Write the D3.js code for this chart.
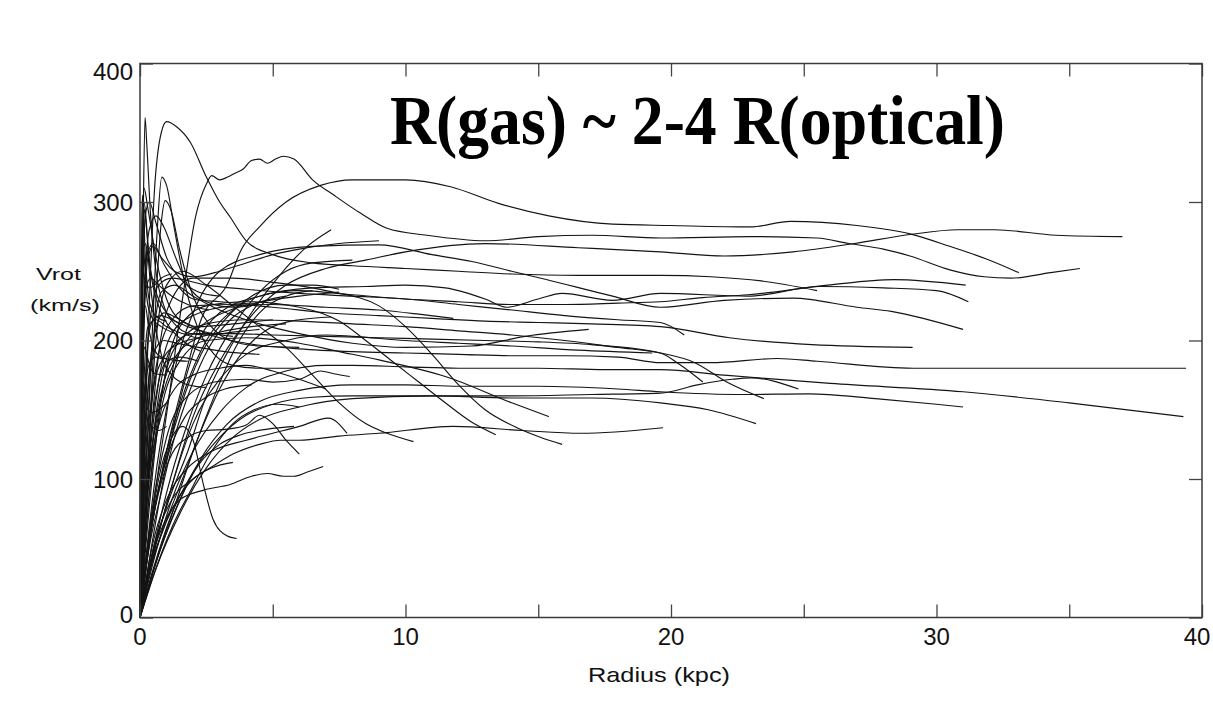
<!DOCTYPE html>
<html>
<head>
<meta charset="utf-8">
<script src="https://cdn.jsdelivr.net/npm/d3@7"></script>
<style>
html,body{margin:0;padding:0;background:#fff;}
svg{display:block;}
</style>
</head>
<body>
<svg id="chart" width="1213" height="710"></svg>
<script>
// ---- Data: rotation curves [radius (kpc), Vrot (km/s)] ----
const g01 = [[0,0],[0.4,60],[1,120],[1.7,175],[2.3,215],[3.3,241],[3.8,265],[4.5,282],[5.5,300],[6.8,312],[8,316],[10,316],[11.7,311],[13.5,299],[15.4,290],[17.8,284],[20,283],[23,282],[24.5,286],[27,283],[29,277],[30.5,268],[32,258],[33.1,249]];
const g02 = [[0,0],[0.12,90],[0.3,200],[0.55,310],[0.8,350],[1.0,358],[1.4,354],[1.9,343],[2.5,318],[3.0,300],[3.4,289],[4.0,272],[5,262],[6.5,256],[8,254],[10,252],[12,250],[14,248],[16.5,247],[19.6,247],[21.5,246],[23.4,243],[25.5,236]];
const g03 = [[0,0],[0.5,80],[1.1,160],[1.6,230],[2.1,290],[2.5,313],[2.7,319],[3.0,316],[3.3,318],[3.6,321],[3.9,324],[4.2,330],[4.5,331],[4.8,328],[5.1,331],[5.4,333],[5.8,331],[6.5,316],[7.3,305],[8.3,292],[9.3,281],[10.8,276],[13,272],[15,275],[17,276],[19.6,274],[23,275],[25.5,274],[26.7,270],[28,266],[29,261],[30.5,251],[31.8,246],[32.8,245],[34.3,249],[35.4,252]];
const g04 = [[0,0],[0.5,45],[1.2,95],[2,145],[3,185],[4.2,218],[5.5,240],[7,252],[8.5,258],[10,264],[13,270],[16.5,267],[19.6,264],[22,261],[24.6,264],[26.9,270],[29,276.5],[30.8,280],[32.2,280],[34.5,276],[37,275]];
const g05 = [[0,0],[0.4,60],[1,120],[1.7,165],[2.5,200],[3.5,222],[4.5,232],[6,236],[8,233],[10,230],[12,228],[14,226],[16,226],[18,227],[19.6,228],[21.2,231],[22.9,233],[25.9,240],[28.4,244],[31.1,240]];
const g06 = [[0,0],[0.5,90],[1.2,170],[2,220],[3,250],[4.5,262],[6.5,268],[9,269],[11,262],[12.5,257],[14,250],[15.3,244],[17.8,232],[19.6,224],[22,229],[24.6,230.6],[27,224],[28.3,221],[29.5,216],[31,208]];
const g07 = [[0,0],[0.25,100],[0.6,180],[1.2,215],[2,225],[3.5,226],[5,224],[7,220],[9,218],[11,216],[13,214],[15,213],[17,212],[19.6,210],[22.2,202],[25.3,197],[29.1,195]];
const g08 = [[0,0],[0.2,130],[0.5,200],[0.9,220],[1.5,215],[2.5,205],[4,198],[6,194],[8,192],[10,191],[12,190],[14,189],[16,189],[18,188],[19.6,184],[21.5,184],[24,187],[25.5,185],[29.1,180],[39.4,180]];
const g09 = [[0,0],[0.5,40],[1.2,85],[2,120],[3,148],[4,166],[5.5,178],[7,182],[8,182],[10,181],[12,180],[15,180],[17.5,179],[19.6,179],[22,175],[26,169],[31,163],[35,155],[39.3,145]];
const g10 = [[0,0],[0.6,40],[1.4,80],[2.3,115],[3.3,140],[4.5,156],[6,164],[8,168],[10,168],[12,167],[15,167],[18,165],[19.6,163],[22.7,161],[25.2,161.5],[27.7,158],[30,154],[31,152]];
const g11 = [[0,0],[0.5,35],[1.2,75],[2,105],[3,130],[4,146],[5,154],[6.5,159],[8,160],[11,160],[14,160],[17,161],[19.6,162],[21,168],[22.3,172],[23,173],[24.8,165]];
const g12 = [[0,0],[0.4,100],[0.9,170],[1.5,200],[2.5,212],[4,215],[6,214],[8,212],[10,210],[12,207],[14,204],[16,200],[18,195],[19.6,191],[20.9,184],[22.1,170],[23.5,158]];
const g13 = [[0,0],[0.3,90],[0.7,160],[1.2,195],[2,205],[3.5,205],[5,204],[7,203],[9,202],[11,201],[13,200],[15,199],[17,197],[19.6,191],[20.3,183],[21.2,170]];
const g14 = [[0,0],[0.6,35],[1.5,75],[2.5,108],[3.5,130],[4.5,143],[6,152],[8,158],[11,160],[14,158.5],[17,158.5],[19.6,155],[21.4,150],[23.2,140]];
const g15 = [[0,0],[0.15,130],[0.35,210],[0.7,240],[1.2,245],[2.5,240],[4,237],[6,234],[8,232],[10,230],[12,226],[14,222],[16,218],[18,215],[19.6,213],[20.5,204]];
const g16 = [[0,0],[0.6,70],[1.3,140],[2,190],[3,220],[4.5,232],[6.5,238],[8.5,239],[10,240],[11.5,238],[13,230],[13.8,224],[15,230],[15.9,234],[17.8,229],[19.6,234],[22.9,232],[25.6,239],[28,238],[30,236],[31.2,228]];
const g17 = [[0,0],[0.5,50],[1.2,85],[2,100],[2.8,110],[3.5,118],[4.5,125],[5.3,128],[6,128],[7.5,131],[9,133],[11.8,138],[14.4,135],[16.6,133],[19.7,137]];
const g18 = [[0,0],[0.2,110],[0.5,200],[0.8,235],[1.3,240],[2,232],[3,222],[4.5,212],[6,205],[8,198],[10,195],[12.5,196],[14.5,203],[16.9,208]];
const g19 = [[0,0],[0.3,100],[0.7,190],[1.2,230],[2,245],[3.5,245],[5,242],[7,236],[9,225],[10,210],[11,190],[12,168],[13,150],[14.2,137],[15.1,130],[15.9,125]];
const g20 = [[0,0],[0.3,80],[0.8,150],[1.5,185],[2.5,200],[4,202],[6,198],[7.5,192],[9,186],[11.5,174],[14,155],[15.4,145]];
const g21 = [[0,0],[0.4,90],[0.9,170],[1.5,210],[2.5,225],[4,228],[6,224],[7.5,214],[8.5,200],[9.5,185],[10.5,170],[11.5,155],[12.5,141],[13.4,132]];
const g22 = [[0,0],[0.3,100],[0.7,170],[1.2,205],[2,218],[3.5,225],[5,226],[7,224],[9,222],[10.5,219],[11.8,216]];
const g23 = [[0,0],[0.3,110],[0.6,200],[1,240],[1.6,250],[2.5,240],[3.5,225],[4.5,210],[5.5,195],[6.5,175],[7.5,155],[8.5,140],[9.3,133],[10.3,127]];
const g24 = [[0,0],[0.5,55],[1,85],[1.8,108],[2.7,120],[4,128],[5,133],[6,138],[7.1,144],[7.8,133]];
const g25 = [[0,0],[0.4,70],[1,130],[1.8,160],[2.8,170],[4,172],[5,170],[6,172],[6.8,178],[7.3,176],[7.9,174]];
const g26 = [[0,0],[0.4,40],[0.9,68],[1.5,85],[2.4,92],[3.4,96],[4.2,102],[4.8,104],[5.4,102],[5.8,102],[6.3,105],[6.9,109]];
const g27 = [[0,0],[0.3,50],[0.7,100],[1.2,130],[1.6,138],[2.0,128],[2.4,95],[2.75,71],[3.27,59],[3.64,57]];
const g28 = [[0,0],[0.4,40],[1,80],[1.8,120],[2.5,160],[3.2,188],[4.2,220],[5.3,248],[6.3,268],[7.2,280]];
const g29 = [[0,0],[0.5,45],[1.2,95],[2,140],[3,172],[4,190],[5.5,200],[7,204],[8,203],[10,200],[12,198],[14,196],[16.5,193],[19.3,191]];
const g30 = [[0,0],[0.05,120],[0.1,220],[0.2,290],[0.35,300],[0.6,285],[1,260],[1.5,245],[2.2,235],[3,232]];
const g31 = [[0,0],[0.05,100],[0.12,200],[0.25,260],[0.5,270],[0.9,255],[1.4,240],[2,230],[3,228],[4.5,226]];
const g32 = [[0,0],[0.04,150],[0.08,250],[0.15,310],[0.3,295],[0.6,260],[1,230],[1.5,215],[2.2,210],[3.5,212],[5,215]];
const g33 = [[0,0],[0.06,90],[0.15,170],[0.3,210],[0.6,215],[1,210],[1.6,205],[2.5,200]];
const g34 = [[0,0],[0.1,80],[0.25,150],[0.5,190],[0.9,200],[1.4,198],[2.2,195],[3.2,192],[4.5,190]];
const g35 = [[0,0],[0.08,140],[0.18,240],[0.35,280],[0.6,290],[0.9,282],[1.3,262],[1.8,240],[2.5,228],[3.5,224],[4.5,226]];
const g36 = [[0,0],[0.3,50],[0.8,100],[1.5,150],[2.3,190],[3.2,215],[4.2,232],[5.5,240],[6.5,240],[7.5,237]];
const g37 = [[0,0],[0.2,70],[0.5,130],[0.9,170],[1.4,190],[2,200],[3,206],[4.2,210],[5.5,212]];
const g38 = [[0,0],[0.15,60],[0.4,110],[0.8,145],[1.3,165],[2,175],[3,180],[4,182],[5,178],[6,172],[7,165]];
const g39 = [[0,0],[0.3,50],[0.7,90],[1.2,118],[1.8,130],[2.5,135],[3.3,136],[4.0,139],[4.5,146],[5.0,140],[5.5,128],[6.0,118]];
const g40 = [[0,0],[0.05,180],[0.1,260],[0.15,295],[0.25,280],[0.4,250],[0.7,225],[1.1,210],[1.6,200],[2.3,192]];
const g41 = [[0,0],[0.1,50],[0.3,100],[0.6,140],[1,170],[1.6,195],[2.4,212],[3.4,222],[4.6,228],[6,232],[7.5,235]];
const g42 = [[0,0],[0.2,90],[0.45,200],[0.65,280],[0.82,318],[1.0,312],[1.3,280],[1.7,240],[2.2,208],[2.8,190],[3.5,182],[4.5,180],[6,180]];
const g43 = [[0,0],[0.3,110],[0.6,230],[0.8,285],[0.95,301],[1.15,295],[1.5,265],[2.0,232],[2.6,212],[3.4,200],[4.5,196],[6,195]];
const g44 = [[0,0],[0.06,150],[0.13,300],[0.19,361],[0.26,340],[0.4,290],[0.6,250],[0.9,225],[1.3,212],[1.9,205],[2.6,204],[3.5,206],[4.5,208]];
const g45 = [[0,0],[0.3,30],[0.8,60],[1.4,85],[2,100],[2.7,108],[3.5,112]];
const g46 = [[0,0],[0.2,40],[0.6,85],[1.1,120],[1.7,145],[2.4,158],[3.2,165],[4.2,168]];
const g47 = [[0,0],[0.1,60],[0.25,120],[0.5,165],[0.9,188],[1.5,198],[2.3,202]];
const g48 = [[0,0],[0.04,100],[0.1,190],[0.2,235],[0.4,245],[0.7,240],[1.2,232],[1.8,226],[2.6,222]];
const g49 = [[0,0],[0.06,110],[0.14,200],[0.3,260],[0.5,268],[0.8,260],[1.3,250],[2,246],[3,250],[4,256],[5,262],[6,266],[7.5,270],[9,272]];
const g50 = [[0,0],[0.03,120],[0.07,220],[0.12,265],[0.2,270],[0.35,255],[0.6,235],[1,220],[1.5,212]];
const g51 = [[0,0],[0.08,80],[0.18,160],[0.3,200],[0.5,215],[0.8,218],[1.2,215],[1.8,210],[2.5,206],[3.5,203]];
const g52 = [[0,0],[0.02,100],[0.05,200],[0.1,280],[0.15,300],[0.22,290],[0.35,250],[0.55,215],[0.8,190],[1.2,175],[1.8,168],[2.5,166]];
const g53 = [[0,0],[0.1,40],[0.25,90],[0.45,140],[0.7,170],[1,185],[1.5,188],[2.2,185]];
const g54 = [[0,0],[0.4,40],[1,90],[1.7,135],[2.5,175],[3.5,210],[4.5,235],[5.5,250],[6.5,256],[8,258]];
const g55 = [[0,0],[0.02,80],[0.05,160],[0.08,230],[0.12,250],[0.2,240],[0.3,225],[0.5,215],[0.8,210],[1.2,206]];
const g56 = [[0,0],[0.03,60],[0.06,130],[0.1,180],[0.16,195],[0.25,190],[0.4,180],[0.6,176],[1,175]];
const g57 = [[0,0],[0.02,120],[0.04,220],[0.07,290],[0.1,305],[0.14,290],[0.2,260],[0.3,235],[0.45,222],[0.7,216],[1,214]];
const g58 = [[0,0],[0.04,70],[0.08,140],[0.13,170],[0.2,160],[0.3,150],[0.45,148],[0.7,150],[1,155]];
const g59 = [[0,0],[0.03,90],[0.07,170],[0.12,215],[0.2,225],[0.32,210],[0.5,195],[0.8,188],[1.2,186],[1.8,185]];
const g60 = [[0,0],[0.05,60],[0.1,110],[0.16,150],[0.25,175],[0.4,185],[0.6,188],[0.9,186]];
const g61 = [[0,0],[0.02,140],[0.05,250],[0.09,275],[0.14,265],[0.22,245],[0.35,238],[0.55,240],[0.8,245],[1.2,248]];
const g62 = [[0,0],[0.06,50],[0.12,100],[0.2,130],[0.3,140],[0.45,138],[0.7,135],[1,138]];
const g63 = [[0,0],[0.6,40],[1.3,80],[2,120],[2.8,160],[3.6,195],[4.5,220],[5.5,232],[6.5,236]];
const g64 = [[0,0],[0.4,35],[1,70],[1.6,100],[2.3,135],[3,165],[3.8,190],[4.8,208],[6,215],[7.2,217]];
const g65 = [[0,0],[0.5,30],[1.2,65],[2,95],[2.7,120],[3.5,140],[4.3,150],[5.2,154],[6,152]];
const g66 = [[0,0],[0.3,45],[0.8,90],[1.3,130],[1.9,165],[2.6,195],[3.4,215],[4.3,226],[5.5,232]];
const g67 = [[0,0],[0.7,45],[1.5,85],[2.2,110],[3,125],[3.8,132],[4.8,136],[5.8,138]];

const galaxies = [g01,g02,g03,g04,g05,g06,g07,g08,g09,g10,g11,g12,g13,g14,g15,g16,g17,g18,g19,g20,
  g21,g22,g23,g24,g25,g26,g27,g28,g29,g30,g31,g32,g33,g34,g35,g36,g37,g38,g39,g40,
  g41,g42,g43,g44,g45,g46,g47,g48,g49,g50,g51,g52,g53,g54,g55,g56,g57,g58,g59,g60,
  g61,g62,g63,g64,g65,g66,g67];

const xTicks = [0,5,10,15,20,25,30,35,40];
const xTickLabels = [0,10,20,30,40];
const yTicks = [0,100,200,300,400];
const titleText = "R(gas) ~ 2-4 R(optical)";
const xAxisTitle = "Radius (kpc)";
const yAxisTitle1 = "Vrot";
const yAxisTitle2 = "(km/s)";

// ---- Layout ----
const L = 140, R = 1202, T = 63.5, B = 617.5;
const svg = d3.select("#chart");
svg.append("rect").attr("width",1213).attr("height",710).attr("fill","#ffffff");

const x = d3.scaleLinear().domain([0,40]).range([L,R]);
const y = d3.scaleLinear().domain([0,400]).range([B,T]);

// curves
const line = d3.line().x(d=>x(d[0])).y(d=>y(d[1])).curve(d3.curveMonotoneX);
svg.append("g").selectAll("path").data(galaxies).join("path")
  .attr("d", line).attr("fill","none").attr("stroke","#141414")
  .attr("stroke-width",1.15).attr("stroke-linejoin","round");

// axes (ticks inward on all four sides)
const tickLen = 13;
const axStyle = g => { g.select(".domain").remove(); g.selectAll(".tick line").attr("stroke","#444").attr("stroke-width",1.3); g.selectAll("text").remove(); };
svg.append("g").attr("transform",`translate(0,${B})`).call(d3.axisBottom(x).tickValues(xTicks).tickSize(-tickLen)).call(axStyle);
svg.append("g").attr("transform",`translate(0,${T})`).call(d3.axisTop(x).tickValues(xTicks).tickSize(-tickLen)).call(axStyle);
svg.append("g").attr("transform",`translate(${L},0)`).call(d3.axisLeft(y).tickValues(yTicks).tickSize(-tickLen)).call(axStyle);
svg.append("g").attr("transform",`translate(${R},0)`).call(d3.axisRight(y).tickValues(yTicks).tickSize(-tickLen)).call(axStyle);

svg.append("rect").attr("x",L).attr("y",T).attr("width",R-L).attr("height",B-T)
  .attr("fill","none").attr("stroke","#3a3a3a").attr("stroke-width",1.5);

// tick labels
const font = "'Liberation Sans', Arial, sans-serif";
svg.append("g").selectAll("text").data(xTickLabels).join("text")
  .attr("x", d => Math.min(x(d), 1197)).attr("y", 645)
  .attr("text-anchor","middle").attr("font-family",font).attr("font-size",24)
  .attr("fill","#111").text(d=>d);
svg.append("g").selectAll("text").data(yTicks).join("text")
  .attr("x", 133).attr("y", d => Math.max(Math.min(y(d), 614.5), 71.5) + 8.5)
  .attr("text-anchor","end").attr("font-family",font).attr("font-size",24)
  .attr("fill","#111").text(d=>d);

// axis titles
svg.append("text").attr("x",36).attr("y",280).attr("font-family",font).attr("font-size",16)
  .attr("textLength",45).attr("lengthAdjust","spacingAndGlyphs").attr("fill","#111").text(yAxisTitle1);
svg.append("text").attr("x",30).attr("y",311).attr("font-family",font).attr("font-size",16)
  .attr("textLength",70).attr("lengthAdjust","spacingAndGlyphs").attr("fill","#111").text(yAxisTitle2);
svg.append("text").attr("x",588).attr("y",682).attr("font-family",font).attr("font-size",21)
  .attr("textLength",142).attr("lengthAdjust","spacingAndGlyphs").attr("fill","#111").text(xAxisTitle);

// big title
svg.append("text").attr("x",390).attr("y",144)
  .attr("font-family","'Liberation Serif','Times New Roman',serif").attr("font-weight","bold")
  .attr("font-size",70).attr("textLength",615).attr("lengthAdjust","spacingAndGlyphs")
  .attr("fill","#000").text(titleText);
</script>
</body>
</html>
